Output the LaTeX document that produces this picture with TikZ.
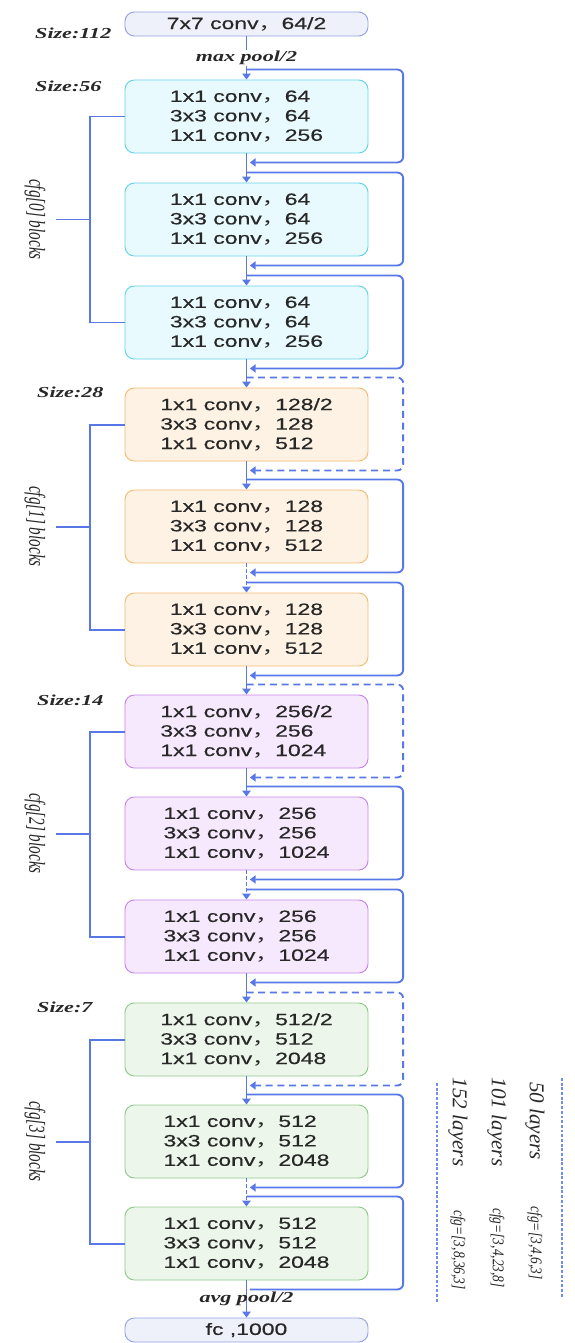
\documentclass[tikz,border=0pt]{standalone}
\usepackage{fontspec}
\usepackage{graphicx}
\setmainfont{Liberation Serif}
\setsansfont{Liberation Sans}
\newfontfamily\boxfont[FakeStretch=1.4,FakeBold=0.5]{Liberation Sans}
\newfontfamily\cjkfont[FakeStretch=1.4]{Noto Sans CJK SC}
\newfontfamily\widefont[FakeStretch=1.45]{Liberation Serif}
\usetikzlibrary{arrows.meta}

% colours
\definecolor{flow}{RGB}{88,120,232}
\definecolor{txt}{RGB}{40,40,40}
\definecolor{headfill}{RGB}{238,240,250}
\definecolor{headdraw}{RGB}{150,165,230}
\definecolor{cyanfill}{RGB}{232,250,253}
\definecolor{cyandraw}{RGB}{100,212,235}
\definecolor{orangefill}{RGB}{253,242,228}
\definecolor{orangedraw}{RGB}{245,188,115}
\definecolor{purplefill}{RGB}{247,233,253}
\definecolor{purpledraw}{RGB}{198,135,235}
\definecolor{greenfill}{RGB}{236,246,234}
\definecolor{greendraw}{RGB}{145,203,140}

% full width comma
\newcommand{\fwcomma}{{\cjkfont ，}}
% tall glyphs for the turned labels
\newcommand{\tall}[1]{\scalebox{1}[1.5]{#1}}
\newcommand{\narrow}[1]{\scalebox{0.82}[1]{#1}}

\tikzset{
    block/.style={draw, rounded corners=8pt, line width=0.8pt,
        minimum width=7.29cm, minimum height=2.19cm, align=left,
        text=txt, font=\boxfont\fontsize{14}{16.6}\selectfont},
    headbox/.style={block, minimum height=0.72cm, align=center,
        fill=headfill, draw=headdraw},
    stage0/.style={block, fill=cyanfill, draw=cyandraw},
    stage1/.style={block, fill=orangefill, draw=orangedraw},
    stage2/.style={block, fill=purplefill, draw=purpledraw},
    stage3/.style={block, fill=greenfill, draw=greendraw},
    flowline/.style={draw=flow, line width=1.6pt,
        -{Triangle[length=5pt,width=7pt]}},
    repeatline/.style={flowline, dash pattern=on 3pt off 2pt},
    skipline/.style={draw=flow, line width=1.6pt, rounded corners=5pt,
        -{Triangle[length=5pt,width=7pt]}},
    projline/.style={skipline, dash pattern=on 6pt off 4pt},
    stageline/.style={draw=flow, line width=1.7pt},
    sizenote/.style={anchor=west, inner sep=0pt, text=txt,
        font=\widefont\bfseries\itshape\fontsize{13}{15}\selectfont},
    poolnote/.style={fill=white, inner sep=1pt, text=txt,
        font=\widefont\bfseries\itshape\fontsize{13}{15}\selectfont},
    stagenote/.style={rotate=-90, inner sep=0pt, text=txt,
        font=\itshape\fontsize{13}{15}\selectfont},
    layersnote/.style={rotate=-90, inner sep=0pt, text=txt,
        font=\itshape\fontsize{18}{20}\selectfont},
    cfgnote/.style={rotate=-90, inner sep=0pt, text=txt,
        font=\itshape\fontsize{14}{16}\selectfont},
    legendline/.style={draw=flow!85, line width=1pt, dash pattern=on 2.5pt off 1.5pt}
}

\begin{document}
\begin{tikzpicture}[x=0.03cm, y=-0.03cm]

    \useasboundingbox[fill=white] (0,0) rectangle (574,1343);

    % Stem
    \node[headbox] (conv1) at (246.5,24) {7x7 conv\fwcomma 64/2};
    \node[sizenote] (s112) at (35,33) {Size:112};

    % Stage 0
    \node[stage0] (b1) at (246.5,116.5) {1x1 conv\fwcomma 64\\3x3 conv\fwcomma 64\\1x1 conv\fwcomma 256};
    \node[stage0] (b2) at (246.5,219.5) {1x1 conv\fwcomma 64\\3x3 conv\fwcomma 64\\1x1 conv\fwcomma 256};
    \node[stage0] (b3) at (246.5,322.5) {1x1 conv\fwcomma 64\\3x3 conv\fwcomma 64\\1x1 conv\fwcomma 256};
    \node[sizenote] (s56) at (35,86) {Size:56};

    % Stage 1
    \node[stage1] (b4) at (246.5,424.5) {1x1 conv\fwcomma 128/2\\3x3 conv\fwcomma 128\\1x1 conv\fwcomma 512};
    \node[stage1] (b5) at (246.5,526.5) {1x1 conv\fwcomma 128\\3x3 conv\fwcomma 128\\1x1 conv\fwcomma 512};
    \node[stage1] (b6) at (246.5,629.5) {1x1 conv\fwcomma 128\\3x3 conv\fwcomma 128\\1x1 conv\fwcomma 512};
    \node[sizenote] (s28) at (37,392) {Size:28};

    % Stage 2
    \node[stage2] (b7) at (246.5,731.5) {1x1 conv\fwcomma 256/2\\3x3 conv\fwcomma 256\\1x1 conv\fwcomma 1024};
    \node[stage2] (b8) at (246.5,833.5) {1x1 conv\fwcomma 256\\3x3 conv\fwcomma 256\\1x1 conv\fwcomma 1024};
    \node[stage2] (b9) at (246.5,936.5) {1x1 conv\fwcomma 256\\3x3 conv\fwcomma 256\\1x1 conv\fwcomma 1024};
    \node[sizenote] (s14) at (37,700) {Size:14};

    % Stage 3
    \node[stage3] (b10) at (246.5,1039.5) {1x1 conv\fwcomma 512/2\\3x3 conv\fwcomma 512\\1x1 conv\fwcomma 2048};
    \node[stage3] (b11) at (246.5,1141.5) {1x1 conv\fwcomma 512\\3x3 conv\fwcomma 512\\1x1 conv\fwcomma 2048};
    \node[stage3] (b12) at (246.5,1243.5) {1x1 conv\fwcomma 512\\3x3 conv\fwcomma 512\\1x1 conv\fwcomma 2048};
    \node[sizenote] (s7) at (37,1007) {Size:7};

    % Head
    \node[headbox] (fc) at (246.5,1330) {fc ,1000};

    % Main path
    \draw[flowline] (conv1.south) -- (b1.north) node[midway, poolnote] {max pool/2};
    \draw[flowline] (b1.south) -- (b2.north);
    \draw[flowline] (b2.south) -- (b3.north);
    \draw[flowline] (b3.south) -- (b4.north);
    \draw[flowline] (b4.south) -- (b5.north);
    \draw[repeatline] (b5.south) -- (b6.north);
    \draw[flowline] (b6.south) -- (b7.north);
    \draw[flowline] (b7.south) -- (b8.north);
    \draw[repeatline] (b8.south) -- (b9.north);
    \draw[flowline] (b9.south) -- (b10.north);
    \draw[flowline] (b10.south) -- (b11.north);
    \draw[repeatline] (b11.south) -- (b12.north);
    \draw[flowline] (b12.south) -- (fc.north) node[midway, poolnote, fill=none] {avg pool/2};

    % Shortcuts
    \draw[skipline] ([yshift=3mm]b1.north) -- ++(4.7cm,0) |- ([xshift=1mm,yshift=-2.7mm]b1.south);
    \draw[skipline] ([yshift=3mm]b2.north) -- ++(4.7cm,0) |- ([xshift=1mm,yshift=-2.7mm]b2.south);
    \draw[skipline] ([yshift=3mm]b3.north) -- ++(4.7cm,0) |- ([xshift=1mm,yshift=-2.7mm]b3.south);
    \draw[projline] ([yshift=3mm]b4.north) -- ++(4.7cm,0) |- ([xshift=1mm,yshift=-2.7mm]b4.south);
    \draw[skipline] ([yshift=3mm]b5.north) -- ++(4.7cm,0) |- ([xshift=1mm,yshift=-2.7mm]b5.south);
    \draw[skipline] ([yshift=3mm]b6.north) -- ++(4.7cm,0) |- ([xshift=1mm,yshift=-2.7mm]b6.south);
    \draw[projline] ([yshift=3mm]b7.north) -- ++(4.7cm,0) |- ([xshift=1mm,yshift=-2.7mm]b7.south);
    \draw[skipline] ([yshift=3mm]b8.north) -- ++(4.7cm,0) |- ([xshift=1mm,yshift=-2.7mm]b8.south);
    \draw[skipline] ([yshift=3mm]b9.north) -- ++(4.7cm,0) |- ([xshift=1mm,yshift=-2.7mm]b9.south);
    \draw[projline] ([yshift=3mm]b10.north) -- ++(4.7cm,0) |- ([xshift=1mm,yshift=-2.7mm]b10.south);
    \draw[skipline] ([yshift=3mm]b11.north) -- ++(4.7cm,0) |- ([xshift=1mm,yshift=-2.7mm]b11.south);
    \draw[skipline, -] ([yshift=3mm]b12.north) -- ++(4.7cm,0) |- ([xshift=1mm,yshift=-2.7mm]b12.south);

    % Stage brackets
    \draw[stageline] (b1.west) -- ++(-1.05cm,0) |- (b3.west);
    \draw[stageline] ([xshift=-1.05cm]b2.west) -- ([xshift=-2.07cm]b2.west);
    \node[stagenote] (cfg0) at (35,219.5) {\tall{cfg[0] blocks}};

    \draw[stageline] (b4.west) -- ++(-1.05cm,0) |- (b6.west);
    \draw[stageline] ([xshift=-1.05cm]b5.west) -- ([xshift=-2.07cm]b5.west);
    \node[stagenote] (cfg1) at (35,526.5) {\tall{cfg[1] blocks}};

    \draw[stageline] (b7.west) -- ++(-1.05cm,0) |- (b9.west);
    \draw[stageline] ([xshift=-1.05cm]b8.west) -- ([xshift=-2.07cm]b8.west);
    \node[stagenote] (cfg2) at (35,833.5) {\tall{cfg[2] blocks}};

    \draw[stageline] (b10.west) -- ++(-1.05cm,0) |- (b12.west);
    \draw[stageline] ([xshift=-1.05cm]b11.west) -- ([xshift=-2.07cm]b11.west);
    \node[stagenote] (cfg3) at (35,1141.5) {\tall{cfg[3] blocks}};

    % Depth table
    \draw[legendline] (437,1083) -- (437,1303);
    \draw[legendline] (562,1078) -- (562,1298);
    \node[layersnote] (l50) at (535,1121) {50 layers};
    \node[cfgnote] (c50) at (535,1243) {\narrow{cfg=[3,4,6,3]}};
    \node[layersnote] (l101) at (497,1122) {101 layers};
    \node[cfgnote] (c101) at (497,1248) {\narrow{cfg=[3,4,23,8]}};
    \node[layersnote] (l152) at (458,1122) {152 layers};
    \node[cfgnote] (c152) at (458,1250) {\narrow{cfg=[3,8,36,3]}};

\end{tikzpicture}
\end{document}
